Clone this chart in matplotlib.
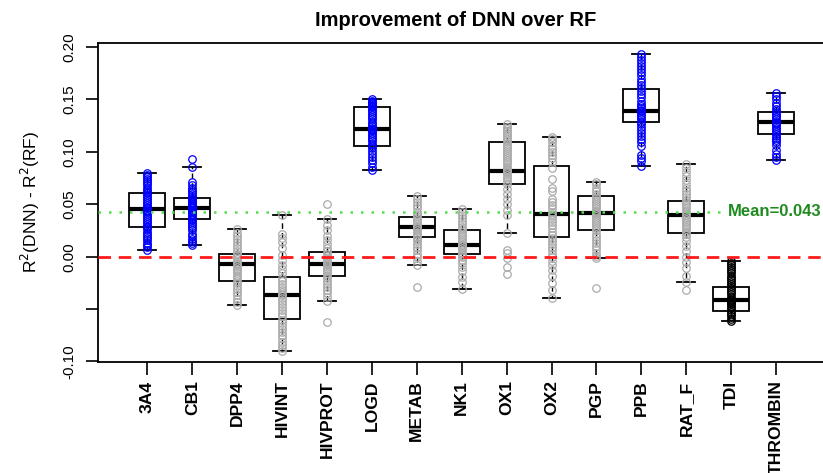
import matplotlib
matplotlib.use("Agg")
import matplotlib.pyplot as plt

plt.rcParams['font.family'] = ['Liberation Sans', 'DejaVu Sans']

categories = ["3A4", "CB1", "DPP4", "HIVINT", "HIVPROT", "LOGD", "METAB", "NK1",
              "OX1", "OX2", "PGP", "PPB", "RAT_F", "TDI", "THROMBIN"]

# box statistics
q1 = [0.028, 0.036, -0.0229, -0.0597, -0.0187, 0.1056, 0.0188, 0.0023,
      0.0694, 0.019, 0.0255, 0.1290, 0.0223, -0.0515, 0.117]
med = [0.0455, 0.0468, -0.0073, -0.0365, -0.0067, 0.1219, 0.028, 0.0112,
       0.0818, 0.041, 0.042, 0.1395, 0.0398, -0.0413, 0.1282]
q3 = [0.061, 0.0563, 0.0026, -0.0197, 0.0045, 0.1425, 0.0376, 0.0255,
      0.1098, 0.0868, 0.0582, 0.1603, 0.0531, -0.0286, 0.1376]
whislo = [0.0065, 0.0112, -0.046, -0.0897, -0.042, 0.0827, -0.008, -0.0308,
          0.0223, -0.0397, -0.001, 0.0868, -0.0244, -0.0614, 0.0920]
whishi = [0.080, 0.0859, 0.0267, 0.0398, 0.0357, 0.150, 0.058, 0.0455,
          0.1263, 0.1145, 0.0716, 0.1935, 0.0885, -0.0041, 0.156]

# individual points (stripchart)
pts_3A4 = [0.0065, 0.009, 0.011, 0.013, 0.016, 0.018, 0.020, 0.022, 0.024, 0.026, 0.028,
           0.029, 0.031, 0.033, 0.035, 0.037, 0.039, 0.041, 0.043, 0.044, 0.045, 0.046,
           0.047, 0.049, 0.051, 0.053, 0.055, 0.057, 0.059, 0.061, 0.062, 0.064, 0.066,
           0.068, 0.070, 0.072, 0.074, 0.076, 0.078, 0.080]
pts_CB1 = [0.0112, 0.013, 0.015, 0.017, 0.020, 0.022, 0.025, 0.027, 0.029, 0.031, 0.033,
           0.035, 0.036, 0.038, 0.040, 0.041, 0.043, 0.044, 0.045, 0.046, 0.047, 0.048,
           0.049, 0.050, 0.051, 0.052, 0.054, 0.055, 0.056, 0.058, 0.060, 0.062, 0.064,
           0.066, 0.068, 0.071, 0.0859, 0.093]
pts_DPP4 = [-0.046, -0.043, -0.040, -0.037, -0.034, -0.031, -0.028, -0.025, -0.023, -0.020,
            -0.018, -0.016, -0.014, -0.012, -0.010, -0.008, -0.007, -0.006, -0.004, -0.002,
            0.000, 0.002, 0.003, 0.005, 0.008, 0.011, 0.014, 0.017, 0.020, 0.023, 0.0267]
pts_HIVINT = [0.0398, 0.022, 0.018, 0.014, 0.008, 0.002, -0.003, -0.008, -0.012, -0.016,
              -0.020, -0.023, -0.026, -0.029, -0.032, -0.034, -0.036, -0.037, -0.039, -0.042,
              -0.045, -0.048, -0.051, -0.054, -0.057, -0.060, -0.063, -0.066, -0.069, -0.072,
              -0.075, -0.078, -0.081, -0.084, -0.087, -0.0897]
pts_HIVPROT = [0.050, 0.0357, 0.030, 0.025, 0.020, 0.016, 0.012, 0.008, 0.005, 0.003, 0.001,
               -0.001, -0.003, -0.005, -0.006, -0.007, -0.008, -0.010, -0.012, -0.014, -0.016,
               -0.018, -0.020, -0.023, -0.026, -0.029, -0.032, -0.035, -0.038, -0.042, -0.062]
pts_LOGD = [0.0827, 0.086, 0.089, 0.092, 0.095, 0.098, 0.101, 0.104, 0.106, 0.108, 0.110,
            0.112, 0.114, 0.116, 0.118, 0.120, 0.121, 0.122, 0.123, 0.125, 0.127, 0.129,
            0.131, 0.133, 0.135, 0.137, 0.139, 0.141, 0.143, 0.144, 0.145, 0.146, 0.147,
            0.148, 0.149, 0.150]
pts_METAB = [0.058, 0.055, 0.052, 0.049, 0.046, 0.043, 0.041, 0.039, 0.037, 0.035, 0.033,
             0.031, 0.029, 0.028, 0.027, 0.025, 0.023, 0.021, 0.019, 0.017, 0.015, 0.012,
             0.009, 0.006, 0.003, 0.000, -0.004, -0.008, -0.0286]
pts_NK1 = [0.0455, 0.043, 0.040, 0.037, 0.034, 0.031, 0.028, 0.026, 0.024, 0.022, 0.020,
           0.018, 0.016, 0.014, 0.012, 0.011, 0.010, 0.008, 0.006, 0.004, 0.002, 0.000,
           -0.003, -0.006, -0.010, -0.014, -0.019, -0.024, -0.0308]
pts_OX1 = [0.1263, 0.124, 0.122, 0.120, 0.118, 0.116, 0.114, 0.112, 0.110, 0.108, 0.106,
           0.104, 0.102, 0.100, 0.098, 0.096, 0.094, 0.092, 0.090, 0.088, 0.086, 0.084,
           0.083, 0.082, 0.081, 0.080, 0.078, 0.076, 0.074, 0.072, 0.069, 0.065, 0.060,
           0.055, 0.050, 0.045, 0.040, 0.0223, 0.0064, 0.0038, -0.0015, -0.0095, -0.0168]
pts_OX2 = [0.1145, 0.112, 0.109, 0.106, 0.103, 0.100, 0.097, 0.094, 0.090, 0.085, 0.074,
           0.066, 0.063, 0.055, 0.052, 0.049, 0.046, 0.043, 0.041, 0.039, 0.036, 0.033,
           0.030, 0.027, 0.024, 0.021, 0.018, 0.015, 0.012, 0.009, 0.006, 0.003, 0.000,
           -0.004, -0.008, -0.013, -0.018, -0.025, -0.032, -0.0397]
pts_PGP = [0.0716, 0.069, 0.066, 0.063, 0.060, 0.058, 0.056, 0.054, 0.052, 0.050, 0.048,
           0.046, 0.044, 0.043, 0.042, 0.041, 0.039, 0.037, 0.035, 0.033, 0.031, 0.029,
           0.027, 0.025, 0.022, 0.019, 0.016, 0.013, 0.010, 0.007, 0.004, 0.001, -0.001,
           -0.0296]
pts_PPB = [0.1935, 0.191, 0.188, 0.185, 0.182, 0.179, 0.176, 0.173, 0.170, 0.167, 0.164,
           0.161, 0.158, 0.155, 0.152, 0.149, 0.146, 0.144, 0.142, 0.140, 0.139, 0.137,
           0.135, 0.133, 0.131, 0.129, 0.127, 0.124, 0.121, 0.118, 0.115, 0.112, 0.109,
           0.106, 0.097, 0.094, 0.091, 0.0868]
pts_RAT_F = [0.0885, 0.085, 0.081, 0.077, 0.073, 0.069, 0.066, 0.063, 0.060, 0.057, 0.054,
             0.052, 0.050, 0.048, 0.046, 0.044, 0.042, 0.040, 0.038, 0.036, 0.034, 0.032,
             0.030, 0.028, 0.026, 0.024, 0.022, 0.019, 0.015, 0.010, 0.005, 0.000, -0.005,
             -0.011, -0.018, -0.0244, -0.0318]
pts_TDI = [-0.0041, -0.006, -0.008, -0.010, -0.012, -0.014, -0.016, -0.018, -0.020, -0.022,
           -0.024, -0.026, -0.028, -0.030, -0.032, -0.034, -0.036, -0.038, -0.040, -0.041,
           -0.042, -0.043, -0.044, -0.045, -0.047, -0.049, -0.051, -0.053, -0.055, -0.057,
           -0.059, -0.0614]
pts_THROMBIN = [0.156, 0.153, 0.150, 0.147, 0.144, 0.141, 0.139, 0.137, 0.135, 0.133, 0.131,
                0.129, 0.128, 0.127, 0.125, 0.123, 0.121, 0.119, 0.117, 0.115, 0.113, 0.111,
                0.109, 0.107, 0.102, 0.098, 0.095, 0.0920]

points = [pts_3A4, pts_CB1, pts_DPP4, pts_HIVINT, pts_HIVPROT, pts_LOGD, pts_METAB, pts_NK1,
          pts_OX1, pts_OX2, pts_PGP, pts_PPB, pts_RAT_F, pts_TDI, pts_THROMBIN]

# significance group: 'up' (blue), 'down' (black), 'ns' (gray)
groups = ["up", "up", "ns", "ns", "ns", "up", "ns", "ns",
          "ns", "ns", "ns", "up", "ns", "down", "up"]

mean_value = 0.043
y_ticks = [-0.10, -0.05, 0.00, 0.05, 0.10, 0.15, 0.20]
y_ticklabels = ["-0.10", "", "0.00", "0.05", "0.10", "0.15", "0.20"]

group_colors = {"up": "#0000ff", "down": "#000000", "ns": "#ababab"}

W, H = 823, 473
fig = plt.figure(figsize=(W / 100, H / 100), dpi=100)
ax = fig.add_axes([98 / W, 1 - 361.7 / H, (825.4 - 98) / W, (361.7 - 42.7) / H])

positions = list(range(1, len(categories) + 1))
stats = []
for i, c in enumerate(categories):
    stats.append(dict(label=c, med=med[i], q1=q1[i], q3=q3[i],
                      whislo=whislo[i], whishi=whishi[i], fliers=[]))

ax.bxp(stats, positions=positions, widths=0.8, showfliers=False,
       patch_artist=True,
       boxprops=dict(facecolor="white", edgecolor="black", linewidth=1.3),
       medianprops=dict(color="black", linewidth=3, solid_capstyle="butt"),
       whiskerprops=dict(color="black", linewidth=1.0, linestyle=(0, (4, 3))),
       capprops=dict(color="black", linewidth=1.3),
       capwidths=0.4, zorder=2)

for i, vals in enumerate(points):
    col = group_colors[groups[i]]
    ax.plot([positions[i]] * len(vals), vals, linestyle="none", marker="o",
            markersize=5.4, markerfacecolor="none", markeredgecolor=col,
            markeredgewidth=0.9, zorder=3)

ax.axhline(0, color="#ff1a1a", linewidth=2, linestyle=(0, (4.5, 2.8)), zorder=4)
ax.axhline(mean_value, color="#55dd55", linewidth=1.8, linestyle=(0, (1, 3.2)), zorder=4)
ax.text(13.93, mean_value, "Mean=%.3f" % mean_value, color="#1f8a1f", fontsize=12,
        fontweight="bold", ha="left", va="center", zorder=5,
        bbox=dict(facecolor="white", edgecolor="none", pad=1.5))

ax.set_xlim(-0.1, 16.1)
ax.set_ylim(-0.1002, 0.2042)
ax.set_xticks(positions)
ax.set_xticklabels(categories, rotation=90, fontweight="bold", fontsize=12.6)
ax.set_yticks(y_ticks)
ax.set_yticklabels(y_ticklabels, rotation=90, va="center", fontsize=11)
ax.tick_params(axis="x", length=9, width=1.2, pad=4.5)
ax.tick_params(axis="y", length=8.5, width=1.2, pad=7)
for s in ax.spines.values():
    s.set_linewidth(1.3)

fig.text(456 / W, 1 - 20 / H, "Improvement of DNN over RF", fontsize=14.5,
         fontweight="bold", ha="center", va="center")
fig.text(30 / W, 1 - 202 / H, r"R$^2$(DNN) - R$^2$(RF)", fontsize=12.5,
         rotation=90, ha="center", va="center")

fig.savefig("out.png", dpi=100)
